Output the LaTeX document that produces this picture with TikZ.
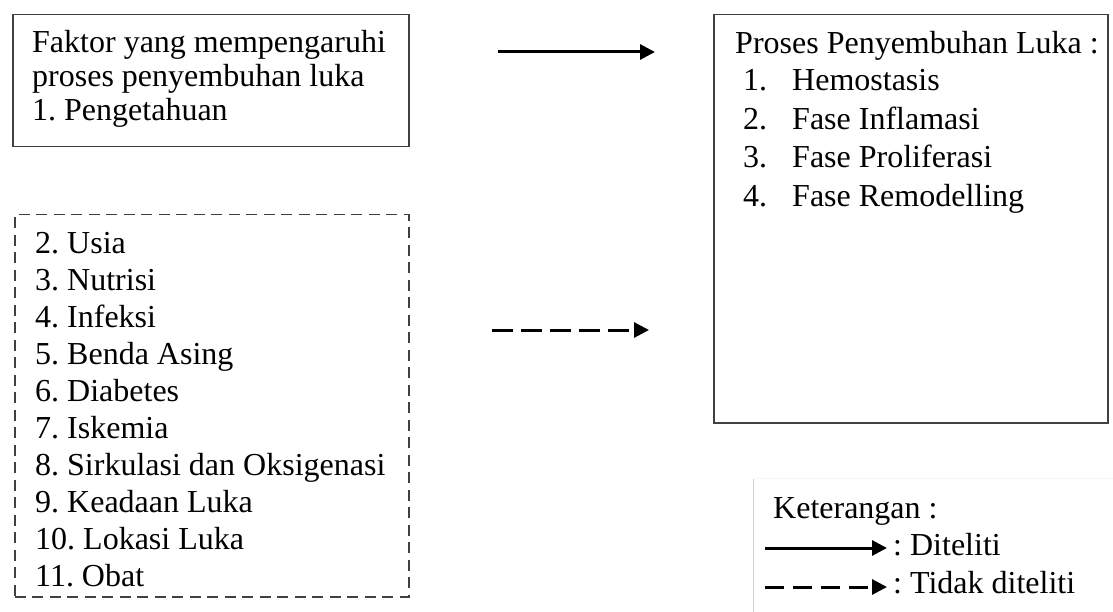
\documentclass[tikz,border=0pt]{standalone}
\usepackage{fontspec}
\setmainfont{Liberation Serif}
\usetikzlibrary{arrows.meta,positioning}
\frenchspacing

\begin{document}
\begin{tikzpicture}[
  x=1pt, y=-1pt,
  box/.style={draw=black!75, line width=1.5pt, anchor=north west, inner sep=0pt},
  dbox/.style={box, dash pattern=on 11pt off 6.5pt},
  txt/.style={anchor=base west, inner sep=0pt, font=\fontsize{32}{37}\selectfont},
  arr/.style={-{Triangle[length=15pt,width=15pt]}, line width=3pt},
  darr/.style={arr, dash pattern=on 21pt off 8pt},
  ldarr/.style={arr, dash pattern=on 19pt off 9pt}
]
\useasboundingbox (0,0) rectangle (1113,612);

% boxes
\node[box, minimum width=396pt, minimum height=132pt] (faktor) at (12,14) {};
\node[dbox, minimum width=394pt, minimum height=382pt] (lain) at (14,214) {};
\node[box, minimum width=394pt, minimum height=408pt] (proses) at (713,14) {};

% texts of the boxes
\node[txt] (f1) at (32,53) {Faktor yang mempengaruhi};
\node[txt] (f2) at (32,87) {proses penyembuhan luka};
\node[txt] (f3) at (32,121) {1. Pengetahuan};
\foreach \t [count=\i] in {2. Usia, 3. Nutrisi, 4. Infeksi, 5. Benda Asing,
  6. Diabetes, 7. Iskemia, 8. Sirkulasi dan Oksigenasi, 9. Keadaan Luka,
  10. Lokasi Luka, 11. Obat}
  \node[txt] (l\i) at (35,{254+36.9*(\i-1)}) {\t};
\node[txt] (p0) at (735,54) {Proses Penyembuhan Luka :};
\foreach \t [count=\i] in {Hemostasis, Fase Inflamasi, Fase Proliferasi, Fase Remodelling}{
  \node[txt] (n\i) at (743,{91+38.5*(\i-1)}) {\i.};
  \node[txt] (p\i) at (792,{91+38.5*(\i-1)}) {\t};
}

% arrows
\coordinate (a1) at (498,52);
\coordinate (b1) at (655,52);
\coordinate (a2) at (492,330);
\coordinate (b2) at (649,330);
\draw[arr] (a1) -- (b1);
\draw[darr] (a2) -- (b2);

% keterangan
\draw[gray!35, line width=1pt] (753,612) -- (753,478);
\draw[gray!8, line width=1pt] (753,478) -- (1113,478);
\node[txt] (ket) at (773,518) {Keterangan :};
\coordinate (k1) at (765,548);
\coordinate (k2) at (887,548);
\coordinate (k3) at (765,587);
\coordinate (k4) at (887,587);
\draw[arr] (k1) -- (k2);
\draw[ldarr] (k3) -- (k4);
\node[txt] (dit) at (893,555) {: Diteliti};
\node[txt] (tdk) at (893,593) {: Tidak diteliti};
\end{tikzpicture}
\end{document}
